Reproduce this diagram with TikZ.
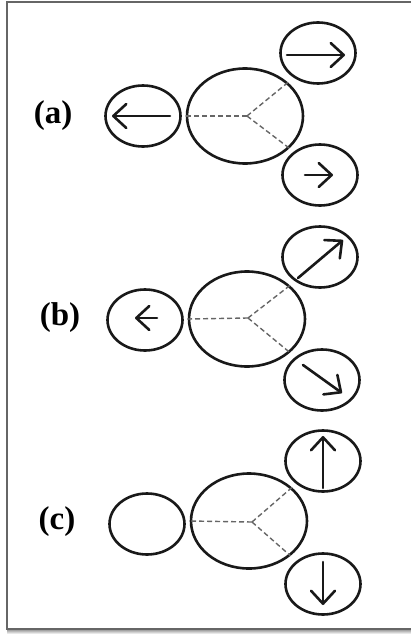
\documentclass[tikz,border=0pt]{standalone}
\usepackage{fontspec}
\setmainfont{Liberation Serif}
\usetikzlibrary{shapes.geometric,arrows.meta}
\begin{document}
\begin{tikzpicture}[x=1pt,y=-1pt,
  ring/.style={draw=black!90, line width=2.6pt, ellipse, inner sep=0pt},
  big/.style={ring, minimum width=116pt, minimum height=95pt},
  small/.style={ring, minimum width=75pt, minimum height=61pt},
  guide/.style={draw=black!60, line width=1.4pt, dash pattern=on 5pt off 3pt},
  vec/.style={draw=black!90, line width=2.6pt, line cap=round,
    -{Straight Barb[length=13pt,width=24pt,line cap=round,line join=round]}},
  lab/.style={font=\bfseries\fontsize{33}{33}\selectfont, inner sep=0pt}]
\useasboundingbox (0,0) rectangle (411,634);
% frame
\shade[top color=black!45, bottom color=white] (7,629) rectangle (411,634);
\draw[black!60, line width=1.5pt] (420,2) -- (7,2) -- (7,629) -- (420,629);

% ---------- (a) ----------
\node[lab] (la) at (53,116) {(a)};
\node[small] (La) at (143,116) {};
\node[big] (Ba) at (245,116) {};
\node[small] (TRa) at (318,53) {};
\node[small] (BRa) at (320,175) {};
\coordinate (Ca) at (247,116);
\draw[guide] (Ca) -- (Ba.west);
\draw[guide] (Ca) -- (Ba.38);
\draw[guide] (Ca) -- (Ba.-36);
\draw[vec] ([xshift=27pt]La.center) -- ([xshift=-31pt]La.center);
\draw[vec] ([xshift=-31pt,yshift=-2pt]TRa.center) -- ([xshift=27pt,yshift=-2pt]TRa.center);
\draw[vec] ([xshift=-15pt]BRa.center) -- ([xshift=13pt]BRa.center);

% ---------- (b) ----------
\node[lab] (lb) at (60,318) {(b)};
\node[small] (Lb) at (145,320) {};
\node[big] (Bb) at (247,319) {};
\node[small] (TRb) at (320,257) {};
\node[small] (BRb) at (322,380) {};
\coordinate (Cb) at (248,318);
\draw[guide] (Cb) -- (Bb.west);
\draw[guide] (Cb) -- (Bb.38);
\draw[guide] (Cb) -- (Bb.-38);
\draw[vec] ([xshift=12pt,yshift=2pt]Lb.center) -- ([xshift=-10pt,yshift=2pt]Lb.center);
\draw[vec] (298,278) -- (343,240);
\draw[vec] (303,365) -- (342,393);

% ---------- (c) ----------
\node[lab] (lc) at (57,522) {(c)};
\node[small] (Lc) at (147,524) {};
\node[big] (Bc) at (249,521) {};
\node[small] (TRc) at (323,461) {};
\node[small] (BRc) at (323,584) {};
\coordinate (Cc) at (252,522);
\draw[guide] (Cc) -- (Bc.west);
\draw[guide] (Cc) -- (Bc.38);
\draw[guide] (Cc) -- (Bc.-40);
\draw[vec] ([yshift=-27pt]TRc.center) -- ([yshift=25pt]TRc.center);
\draw[vec] ([yshift=22pt]BRc.center) -- ([yshift=-21pt]BRc.center);
\end{tikzpicture}
\end{document}
